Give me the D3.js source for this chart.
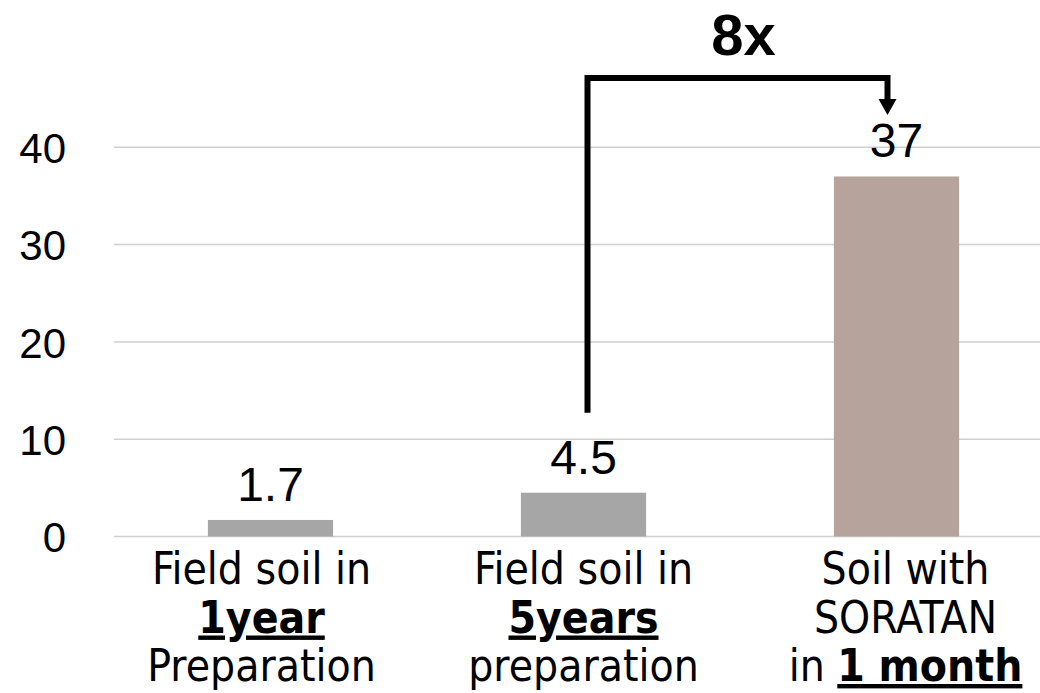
<!DOCTYPE html>
<html>
<head>
<meta charset="utf-8">
<script src="https://cdn.jsdelivr.net/npm/d3@7"></script>
<style>
  html, body { margin: 0; padding: 0; background: #fff; }
  svg { display: block; }
</style>
</head>
<body>
<svg id="chart" width="1040" height="693"></svg>
<script>
/**
 * Chart data
 */
var categories = ["1year", "5years", "1month"];
var values = [1.7, 4.5, 37];
var valueLabels = ["1.7", "4.5", "37"];
var yTicks = [0, 10, 20, 30, 40];
// each label line is a list of [text, emphasised] pieces
var categoryLines = [
    [[["Field soil in", false]], [["1year", true]], [["Preparation", false]]],
    [[["Field soil in", false]], [["5years", true]], [["preparation", false]]],
    [[["Soil with", false]], [["SORATAN", false]], [["in ", false], ["1 month", true]]]
];
var barColors = ["#a6a6a6", "#a6a6a6", "#b6a39c"];
var ratioLabel = "8x";

window.onload = function(){
    drawChart();
};

function drawChart(){
    let svg = d3.select("#chart");

    let xScale = d3.scaleBand()
        .domain(categories)
        .range([114, 1053])
        .paddingInner(0.6)
        .paddingOuter(0.3);

    let yScale = d3.scaleLinear()
        .domain([0, 40])
        .range([536.5, 147.3]);

    // gridlines
    svg.append("g")
        .selectAll("line")
        .data(yTicks)
        .enter()
        .append("line")
        .attr("x1", 114)
        .attr("x2", 1040)
        .attr("y1", function(d){ return yScale(d); })
        .attr("y2", function(d){ return yScale(d); })
        .style("stroke", "#d0d0d0")
        .style("stroke-width", 1.5);

    // y axis labels
    let yAxis = d3.axisLeft(yScale)
        .tickValues(yTicks)
        .tickSize(0)
        .tickPadding(0);
    let gy = svg.append("g")
        .attr("transform", "translate(66,0)")
        .call(yAxis);
    gy.select(".domain").remove();
    gy.selectAll("text")
        .attr("dy", "0.36em")
        .style("font-family", "'Liberation Sans', Arial, sans-serif")
        .style("font-size", "42px")
        .style("fill", "#000");

    // bars
    svg.selectAll("rect.bar")
        .data(values)
        .enter()
        .append("rect")
        .attr("class", "bar")
        .attr("x", function(d,i){ return xScale(categories[i]); })
        .attr("y", function(d){ return yScale(d); })
        .attr("width", xScale.bandwidth())
        .attr("height", function(d){ return yScale(0) - yScale(d); })
        .style("fill", function(d,i){ return barColors[i]; });

    // value labels
    svg.selectAll("text.value")
        .data(values)
        .enter()
        .append("text")
        .attr("class", "value")
        .attr("x", function(d,i){ return xScale(categories[i]) + xScale.bandwidth()/2; })
        .attr("y", function(d){ return yScale(d) - 19; })
        .attr("text-anchor", "middle")
        .style("font-family", "'Liberation Sans', Arial, sans-serif")
        .style("font-size", "48px")
        .style("fill", "#000")
        .text(function(d,i){ return valueLabels[i]; });

    // category labels (slightly nudged like the original text boxes)
    let lineBase = 584, lineGap = 48.5;
    categoryLines.forEach(function(lines, i){
        let cx = xScale(categories[i]) + xScale.bandwidth()/2 + (i - 1) * 9;
        lines.forEach(function(pieces, j){
            let t = svg.append("text")
                .attr("x", cx)
                .attr("y", lineBase + j*lineGap)
                .attr("text-anchor", "middle")
                .style("font-family", "'DejaVu Sans Condensed', 'DejaVu Sans', Verdana, sans-serif")
                .style("font-stretch", "condensed")
                .style("font-size", "44px")
                .style("fill", "#000");
            pieces.forEach(function(p){
                t.append("tspan")
                    .style("font-weight", p[1] ? "bold" : "normal")
                    .style("text-decoration", p[1] ? "underline" : "none")
                    .text(p[0]);
            });
        });
    });

    // comparison bracket from bar 2 to bar 3
    let x0 = xScale(categories[1]) + xScale.bandwidth()/2 + 4,
        x1 = xScale(categories[2]) + xScale.bandwidth()/2 - 9,
        yBottom = yScale(values[1]) - 80,
        yTop = 78,
        yArrow = 115;

    svg.append("path")
        .attr("d", `M${x0},${yBottom} V${yTop} H${x1} V${yArrow - 14}`)
        .style("fill", "none")
        .style("stroke", "#000")
        .style("stroke-width", 6);

    svg.append("path")
        .attr("d", `M${x1 - 9},${yArrow - 16} L${x1 + 9},${yArrow - 16} L${x1},${yArrow} Z`)
        .style("fill", "#000");

    svg.append("text")
        .attr("x", (x0 + x1)/2 + 6)
        .attr("y", 55)
        .attr("text-anchor", "middle")
        .style("font-family", "'Liberation Sans', Arial, sans-serif")
        .style("font-weight", "bold")
        .style("font-size", "58px")
        .style("fill", "#000")
        .text(ratioLabel);
}
</script>
</body>
</html>
